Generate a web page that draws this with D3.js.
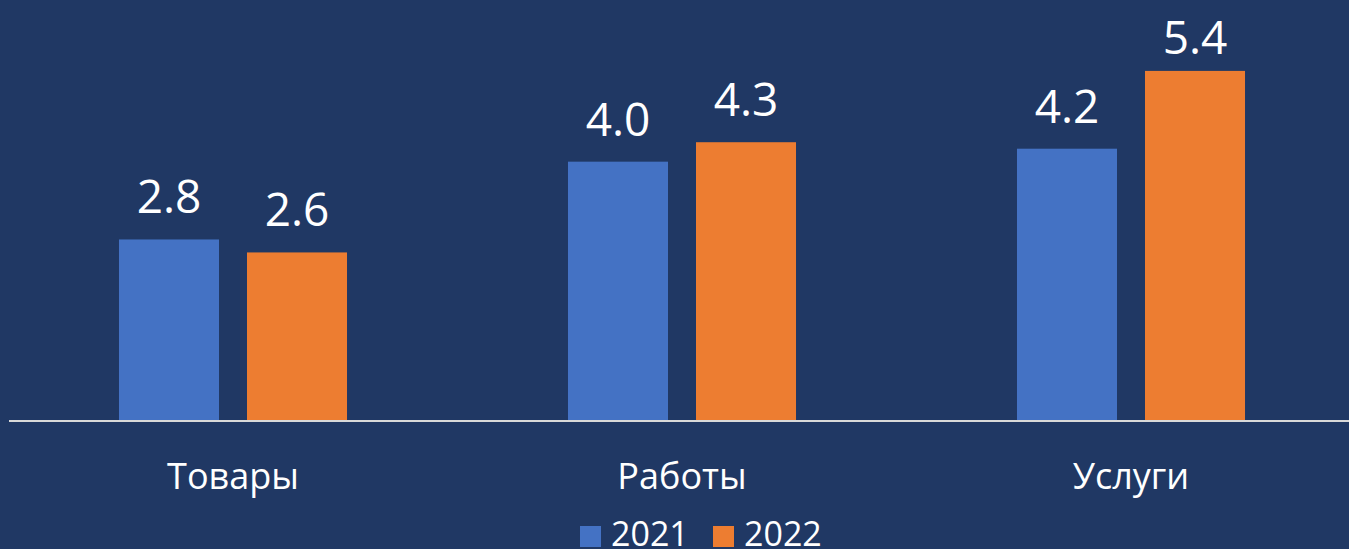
<!DOCTYPE html>
<html>
<head>
<meta charset="utf-8">
<script src="https://cdn.jsdelivr.net/npm/d3@7"></script>
<style>
  html, body { margin: 0; padding: 0; background: #203864; }
  svg { display: block; }
  text { font-family: "Open Sans", "Noto Sans", sans-serif; fill: #ffffff; }
</style>
</head>
<body>
<script>
var w = 1349,
    h = 549;

// Data
var categories = ['Товары', 'Работы', 'Услуги'];
var years = ['2021', '2022'];
var values2021 = [2.8, 4.0, 4.2];
var values2022 = [2.6, 4.3, 5.4];
var colors = ['#4472C4', '#ED7D31'];

var data = categories.map(function(c, i) {
  return { cat: c, vals: [values2021[i], values2022[i]] };
});

var svg = d3.select('body')
            .append('svg')
            .attr('width', w)
            .attr('height', h);

svg.append('rect')
   .attr('width', w)
   .attr('height', h)
   .attr('fill', '#203864');

// Scales
var x = d3.scaleBand()
          .domain(categories)
          .range([8.5, 1355.5])
          .paddingInner(0)
          .paddingOuter(0);

// 100px bars with a 28px gap, centred in each 449px band
var xInner = d3.scaleBand()
               .domain(years)
               .range([0, x.bandwidth()])
               .paddingInner(0.21875)
               .paddingOuter(0.863);

var y = d3.scaleLinear()
          .domain([0, 6])
          .range([421, 32]);

// Bars
var groups = svg.selectAll('g.cat')
                .data(data)
                .enter()
                .append('g')
                .attr('class', 'cat')
                .attr('transform', function(d) { return 'translate(' + x(d.cat) + ',0)'; });

groups.selectAll('rect')
      .data(function(d) { return d.vals.map(function(v, i) { return { year: years[i], v: v, i: i }; }); })
      .enter()
      .append('rect')
      .attr('x', function(d) { return xInner(d.year); })
      .attr('y', function(d) { return y(d.v); })
      .attr('width', xInner.bandwidth())
      .attr('height', function(d) { return y(0) - y(d.v); })
      .attr('fill', function(d) { return colors[d.i]; });

// Value labels (kept inside the top edge)
groups.selectAll('text.val')
      .data(function(d) { return d.vals.map(function(v, i) { return { year: years[i], v: v }; }); })
      .enter()
      .append('text')
      .attr('class', 'val')
      .attr('x', function(d) { return xInner(d.year) + xInner.bandwidth() / 2; })
      .attr('y', function(d) { return Math.max(y(d.v) - 26, 54); })
      .attr('text-anchor', 'middle')
      .style('font-size', '46px')
      .text(function(d) { return d3.format('.1f')(d.v); });

// Baseline
svg.append('line')
   .attr('x1', 9)
   .attr('x2', w)
   .attr('y1', y(0))
   .attr('y2', y(0))
   .attr('stroke', '#D9D9D9')
   .attr('stroke-width', 2);

// Category labels
svg.selectAll('text.cat')
   .data(categories)
   .enter()
   .append('text')
   .attr('class', 'cat')
   .attr('x', function(d) { return x(d) + x.bandwidth() / 2; })
   .attr('y', 489)
   .attr('text-anchor', 'middle')
   .style('font-size', '36px')
   .text(function(d) { return d; });

// Legend
var legend = svg.append('g').attr('transform', 'translate(580,526)');
var items = legend.selectAll('g')
                  .data(years)
                  .enter()
                  .append('g')
                  .attr('transform', function(d, i) { return 'translate(' + (i * 133) + ',0)'; });
items.append('rect')
     .attr('width', 21)
     .attr('height', 21)
     .attr('fill', function(d, i) { return colors[i]; });
items.append('text')
     .attr('x', 31)
     .attr('y', 20)
     .style('font-size', '34px')
     .text(function(d) { return d; });
</script>
</body>
</html>
